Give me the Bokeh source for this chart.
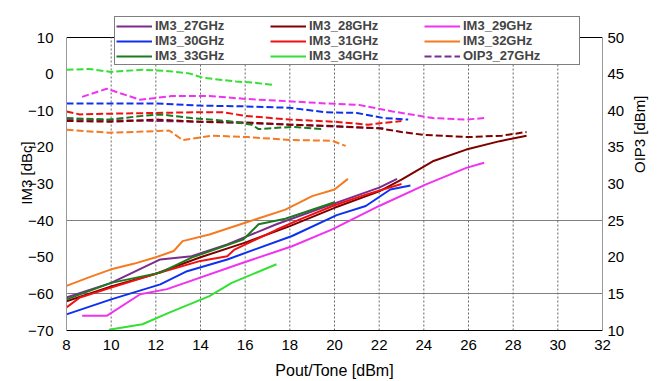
import math
from bokeh.plotting import figure
from bokeh.models import Range1d, LinearAxis, FixedTicker, Grid, Legend, LegendItem
from bokeh.embed import file_html
from bokeh.resources import INLINE

pout_ticks = list(range(8, 33, 2))
im3_ticks = list(range(-70, 11, 10))
oip3_ticks = list(range(10, 51, 5))

# IM3 [dBc] vs Pout/Tone [dBm]
im3_27_x = [8, 10, 12.2, 13.6, 15.2, 17.4, 20.1, 22, 22.8]
im3_27_y = [-61, -57, -50.6, -49.7, -46.5, -41, -35.1, -31, -28.6]
im3_28_x = [8, 10, 12, 14, 16, 18, 20, 22, 23, 24.4, 25.9, 27.4, 28.6]
im3_28_y = [-62, -58, -54.5, -50, -46, -41.5, -36.5, -32, -28.8, -23.8, -20.6, -18.3, -16.8]
im3_29_x = [8.7, 9.8, 11.3, 12.5, 15.9, 18.1, 19.9, 22, 24.1, 25.9, 26.7]
im3_29_y = [-66, -66, -60.1, -58.7, -51.5, -47, -42.4, -36, -30.1, -25.6, -24.2]
im3_30_x = [8, 10, 12.2, 13.4, 15.2, 18.1, 20.1, 21.4, 22.5, 23.4]
im3_30_y = [-65.6, -61.5, -57.4, -53.8, -50.6, -44.2, -38.5, -36, -31.5, -30.4]
im3_31_x = [8, 8.6, 10, 12, 14, 15.2, 15.5, 17.4, 18.4, 20, 21.4, 23]
im3_31_y = [-63.7, -61, -58.3, -54.5, -51, -49.7, -48, -42.5, -39.8, -35.8, -32.9, -30]
im3_32_x = [8, 9, 10, 11, 12, 12.8, 13.2, 14.4, 16, 17.8, 19, 20, 20.6]
im3_32_y = [-57.8, -55.5, -53.3, -51.8, -50, -48.3, -45.6, -43.8, -40.6, -37, -33.3, -31.5, -28.6]
im3_33_x = [8, 10, 12.2, 13.6, 15.9, 16.6, 17.8, 19.5, 20]
im3_33_y = [-61.5, -57, -54.2, -50.1, -45.2, -41, -39.5, -36, -35]
im3_34_x = [9.9, 11.4, 12.6, 14.4, 15.4, 17.4]
im3_34_y = [-69.8, -68.3, -65.1, -60.6, -57, -51.9]

# OIP3 [dBm] vs Pout/Tone [dBm]
oip3_27_x = [8, 12.2, 15.2, 18.1, 21.1, 22.2]
oip3_27_y = [38.8, 38.6, 38.4, 38.1, 37.7, 37.6]
oip3_28_x = [8, 10, 12, 14, 16, 18, 20, 22, 23, 24, 26, 27.5, 28.6]
oip3_28_y = [38.6, 38.5, 38.8, 38.5, 38.4, 38.1, 37.9, 37.6, 37.1, 36.7, 36.4, 36.6, 37.1]
oip3_29_x = [8.7, 9.8, 11.3, 12.7, 14.4, 16.1, 17.9, 19.6, 21.1, 22.6, 24.4, 25.9, 26.7]
oip3_29_y = [41.9, 43, 41.5, 42, 42, 41.6, 41.3, 41, 40.8, 39.9, 39, 38.8, 39]
oip3_30_x = [8, 10, 12, 14, 16, 18, 19.6, 21, 22.2, 23.3]
oip3_30_y = [41, 41, 41, 40.7, 40.6, 40.4, 39.8, 39.7, 39, 38.8]
oip3_31_x = [8, 8.6, 10, 12, 14, 15, 16, 18, 20, 21.5, 23]
oip3_31_y = [39.9, 39.5, 39.6, 39.7, 39.8, 39.8, 39.3, 38.8, 38.5, 38.1, 38.6]
oip3_32_x = [8, 9.9, 11, 12.6, 13.2, 14.5, 16.1, 18.1, 19.9, 20.5]
oip3_32_y = [37.4, 37, 37.1, 37.3, 36, 36.6, 36.4, 36, 35.9, 35.2]
oip3_33_x = [8, 9.9, 11.4, 12.2, 13.6, 15.2, 16.3, 16.6, 18.1, 19.5]
oip3_33_y = [39, 38.8, 39.3, 39.5, 39, 38.6, 38.1, 37.5, 37.8, 37.5]
oip3_34_x = [8, 9, 10, 11.4, 12.6, 13.5, 14.1, 15.6, 16.5, 17.3]
oip3_34_y = [45.6, 45.7, 45.3, 45.6, 45.4, 45.1, 44.5, 44, 43.8, 43.5]

names = ["27GHz", "28GHz", "29GHz", "30GHz", "31GHz", "32GHz", "33GHz", "34GHz"]
colors = ["#7B2C8E", "#800000", "#F033F0", "#1030F0", "#F01010", "#F57A20", "#1E7A1E", "#33E033"]

im3_series = [(im3_27_x, im3_27_y), (im3_28_x, im3_28_y), (im3_29_x, im3_29_y), (im3_30_x, im3_30_y),
              (im3_31_x, im3_31_y), (im3_32_x, im3_32_y), (im3_33_x, im3_33_y), (im3_34_x, im3_34_y)]
oip3_series = [(oip3_27_x, oip3_27_y), (oip3_28_x, oip3_28_y), (oip3_29_x, oip3_29_y), (oip3_30_x, oip3_30_y),
               (oip3_31_x, oip3_31_y), (oip3_32_x, oip3_32_y), (oip3_33_x, oip3_33_y), (oip3_34_x, oip3_34_y)]

FONT = "Liberation Sans"

# frame extends above the IM3 = 10 line so that the legend (which sits above it) is not clipped
PX_PER_DB = 293 / (im3_ticks[-1] - im3_ticks[0])
EXTRA = 22
im3_top = im3_ticks[-1] + EXTRA / PX_PER_DB
oip3_top = oip3_ticks[-1] + EXTRA / PX_PER_DB / 2

p = figure(frame_width=536, frame_height=293 + EXTRA, min_border_left=66, min_border_right=57,
           min_border_top=15, min_border_bottom=49,
           x_range=Range1d(pout_ticks[0], pout_ticks[-1]), y_range=Range1d(im3_ticks[0], im3_top),
           output_backend="svg", toolbar_location=None, x_axis_location=None, y_axis_location=None)
p.extra_y_ranges = {"oip3": Range1d(oip3_ticks[0], oip3_top)}
p.outline_line_color = None
p.background_fill_color = "white"
p.xgrid.visible = False
p.ygrid.visible = False

# axes
xaxis = LinearAxis(ticker=FixedTicker(ticks=pout_ticks), axis_label="Pout/Tone [dBm]")
yaxis = LinearAxis(ticker=FixedTicker(ticks=im3_ticks), axis_label="IM3 [dBc]",
                   bounds=(im3_ticks[0], im3_ticks[-1]))
raxis = LinearAxis(y_range_name="oip3", ticker=FixedTicker(ticks=oip3_ticks), axis_label="OIP3 [dBm]",
                   bounds=(oip3_ticks[0], oip3_ticks[-1]))
for ax in (xaxis, yaxis, raxis):
    ax.major_label_text_font = FONT
    ax.major_label_text_font_size = "15px"
    ax.major_label_text_color = "black"
    ax.axis_label_text_font = FONT
    ax.axis_label_text_font_size = "15px"
    ax.axis_label_text_font_style = "normal"
    ax.axis_label_text_color = "black"
    ax.major_tick_in = 0
    ax.major_tick_out = 0
    ax.minor_tick_line_color = None
xaxis.axis_line_color = "black"
xaxis.axis_label_text_font_size = "16px"
xaxis.major_label_standoff = 9
xaxis.axis_label_standoff = 9
yaxis.axis_line_color = "#999999"
yaxis.major_label_standoff = 13
yaxis.axis_label_standoff = -10
raxis.axis_line_color = "#999999"
raxis.major_label_standoff = 5
raxis.axis_label_standoff = 12
if "axis_label_orientation" in raxis.properties():
    raxis.axis_label_orientation = math.pi / 2
p.add_layout(xaxis, "below")
p.add_layout(yaxis, "left")
p.add_layout(raxis, "right")

# grid: vertical dotted lines at the Pout ticks (IM3 range only), horizontal dotted at -60/-40, top line at 10
vx = pout_ticks[1:]
p.segment(x0=vx, x1=vx, y0=[im3_ticks[0]] * len(vx), y1=[im3_ticks[-1]] * len(vx),
          line_color="#666666", line_dash="2 2", line_width=1)
hgrid = Grid(dimension=1, ticker=FixedTicker(ticks=[-60, -40]), grid_line_color="black",
             grid_line_dash="1 1", grid_line_width=1)
tgrid = Grid(dimension=1, ticker=FixedTicker(ticks=[im3_ticks[-1]]), grid_line_color="black", grid_line_width=1)
p.add_layout(hgrid)
p.add_layout(tgrid)

im3_items = []
for (x, y), c, n in zip(im3_series, colors, names):
    r = p.line(x, y, line_color=c, line_width=2)
    im3_items.append(LegendItem(label="IM3_" + n, renderers=[r]))
oip_renderers = []
for (x, y), c in zip(oip3_series, colors):
    r = p.line(x, y, line_color=c, line_width=2, line_dash="7 3", y_range_name="oip3")
    oip_renderers.append(r)
oip_item = LegendItem(label="OIP3_27GHz", renderers=[oip_renderers[0]])

# column-major order for a vertical legend with 3 rows
all_items = im3_items + [oip_item]
order = [0, 3, 6, 1, 4, 7, 2, 5, 8]
items = [all_items[i] for i in order]

legend = Legend(items=items, location=(48, 265), orientation="vertical", nrows=3,
                border_line_color="black", border_line_width=1, background_fill_alpha=1,
                label_text_font=FONT, label_text_font_size="13px", label_text_font_style="bold",
                glyph_width=36, glyph_height=12, label_height=12, label_width=115,
                label_standoff=3, padding=1, spacing=0, margin=0)
p.add_layout(legend, "center")

open("out.html", "w").write(file_html(p, INLINE))
